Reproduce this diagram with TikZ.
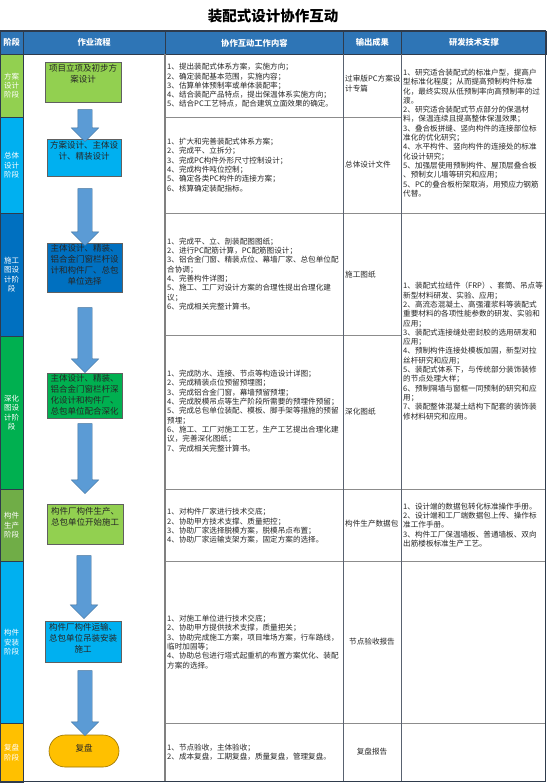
\documentclass[tikz,border=0pt]{standalone}
\usepackage{fontspec}
\setmainfont{Noto Sans CJK SC}
\usepackage{tikz}
\usetikzlibrary{positioning,shapes.arrows}
\usepackage{xcolor}
\definecolor{headblue}{HTML}{2E75B6}
\definecolor{arrowblue}{HTML}{5B9BD5}
\definecolor{arrowedge}{HTML}{41719C}
\definecolor{limegreen}{HTML}{92D050}
\definecolor{skyblue}{HTML}{00B0F0}
\definecolor{deepblue}{HTML}{0070C0}
\definecolor{leafgreen}{HTML}{00B050}
\definecolor{olivegreen}{HTML}{70AD47}
\definecolor{goldyellow}{HTML}{FFC000}
\definecolor{gridgray}{HTML}{8C8C8C}
\definecolor{framedark}{HTML}{2F3B4C}

\begin{document}
\begin{tikzpicture}[
    x=1pt, y=-1pt,
    headcell/.style={anchor=north west, fill=headblue, draw=framedark, line width=0.8pt, text=white, minimum height=23.4, inner sep=0pt, font=\fontsize{8.3}{9}\selectfont\bfseries},
    stagecell/.style={anchor=north west, draw=framedark, line width=0.6pt, text=white, minimum width=22.5, inner sep=0pt, align=center, font=\fontsize{7.5}{9.3}\selectfont},
    flowbox/.style={draw=gray!75!black, line width=0.6pt, inner sep=0pt},
    flowtxt/.style={align=center, inner sep=0pt, font=\fontsize{8.5}{11}\selectfont, text=black!85},
    celltxt/.style={align=left, inner sep=0pt, font=\fontsize{7.6}{9.3}\selectfont, text=black!85},
    outtxt/.style={align=center, inner sep=0pt, font=\fontsize{7.6}{9.3}\selectfont, text=black!85},
    blockarrow/.style={single arrow, shape border rotate=270, fill=arrowblue, draw=arrowedge, line width=0.4pt, inner sep=7pt, single arrow head extend=6.5pt, minimum width=27},
    gridline/.style={draw=gridgray, line width=0.7pt},
    colline/.style={draw=framedark!80, line width=0.7pt}
  ]
  \useasboundingbox (0,0) rectangle (546,783);

  % Title
  \node[font=\fontsize{14.5}{16}\selectfont\bfseries] (title) at (273,16) {装配式设计协作互动};

  % Header row
  \node[headcell, minimum width=22.5] (h1) at (0,30.7) {阶段};
  \node[headcell, minimum width=142.5] (h2) at (22.5,30.7) {作业流程};
  \node[headcell, minimum width=178] (h3) at (165,30.7) {协作互动工作内容};
  \node[headcell, minimum width=58] (h4) at (343,30.7) {输出成果};
  \node[headcell, minimum width=145] (h5) at (401,30.7) {研发技术支撑};

  % Stage column
  \node[stagecell, fill=limegreen, minimum height=63] (s1) at (0,54) {方案\\设计\\阶段};
  \node[stagecell, fill=skyblue, minimum height=96] (s2) at (0,117) {总体\\设计\\阶段};
  \node[stagecell, fill=deepblue, minimum height=122.5] (s3) at (0,213) {施工\\图设\\计阶\\段};
  \node[stagecell, fill=leafgreen, minimum height=153.5] (s4) at (0,335.5) {深化\\图设\\计阶\\段};
  \node[stagecell, fill=olivegreen, minimum height=72] (s5) at (0,489) {构件\\生产\\阶段};
  \node[stagecell, fill=skyblue, minimum height=162] (s6) at (0,561) {构件\\安装\\阶段};
  \node[stagecell, fill=goldyellow, minimum height=58.5] (s7) at (0,723) {复盘\\阶段};

  % Grid
  \draw[gridline] (165,117) -- (401,117);
  \draw[gridline] (165,213) -- (546,213);
  \draw[gridline] (165,335.5) -- (401,335.5);
  \draw[gridline] (165,489) -- (546,489);
  \draw[gridline] (165,561) -- (546,561);
  \draw[gridline] (165,723) -- (546,723);
  \draw[draw=gray, line width=1.4pt] (165,54) -- (165,781.5);
  \draw[colline] (343,54) -- (343,781.5);
  \draw[colline] (401,54) -- (401,781.5);
  \draw[draw=framedark, line width=1pt] (0.5,30.7) rectangle (545.5,781.5);

  % Flow boxes
  \node[flowbox, fill=limegreen, minimum width=76, minimum height=40] (f1) at (83,82) {};
  \node[flowbox, fill=skyblue, minimum width=74, minimum height=37] (f2) at (84,157.5) {};
  \node[flowbox, fill=deepblue, minimum width=75, minimum height=49] (f3) at (84.5,267.5) {};
  \node[flowbox, fill=leafgreen, minimum width=75, minimum height=45] (f4) at (84.5,395.5) {};
  \node[flowbox, fill=limegreen, minimum width=76, minimum height=40] (f5) at (85,524) {};
  \node[flowbox, fill=skyblue, minimum width=76, minimum height=41] (f6) at (83,641.5) {};
  \node[flowbox, fill=goldyellow, draw=goldyellow!60!black, rounded corners=16, minimum width=70, minimum height=32] (f7) at (84,751) {};

  % Flow texts
  \node[flowtxt, below=2.5pt of f1.north] (t1) {项目立项及初步方\\案设计};
  \node[flowtxt, below=2.5pt of f2.north] (t2) {方案设计、主体设\\计、精装设计};
  \node[flowtxt, below=1.5pt of f3.north] (t3) {主体设计、精装、\\铝合金门窗栏杆设\\计和构件厂、总包\\单位选择};
  \node[flowtxt, below=1pt of f4.north] (t4) {主体设计、精装、\\铝合金门窗栏杆深\\化设计和构件厂、\\总包单位配合深化};
  \node[flowtxt, below=3pt of f5.north] (t5) {构件厂构件生产、\\总包单位开始施工};
  \node[flowtxt, below=2pt of f6.north] (t6) {构件厂构件运输、\\总包单位吊装安装\\施工};
  \node[flowtxt, yshift=3pt] (t7) at (f7) {复盘};

  % Arrows
  \node[blockarrow, minimum height=32] (ar1) at (85,122) {};
  \node[blockarrow, minimum height=57] (ar2) at (85,213.5) {};
  \node[blockarrow, minimum height=65] (ar3) at (85,336.5) {};
  \node[blockarrow, minimum height=70] (ar4) at (85,455) {};
  \node[blockarrow, minimum height=63] (ar5) at (84,583.5) {};
  \node[blockarrow, minimum height=65] (ar6) at (85,699.5) {};

  % Work content
  \node[celltxt, anchor=west] (c1) at (167,85.5) {1、提出装配式体系方案，实施方向；\\2、确定装配基本范围，实施内容；\\3、估算单体预制率或单体装配率；\\4、结合装配产品特点，提出保温体系实施方向；\\5、结合PC工艺特点，配合建筑立面效果的确定。};
  \node[celltxt, anchor=west] (c2) at (167,165) {1、扩大和完善装配式体系方案；\\2、完成平、立拆分；\\3、完成PC构件外形尺寸控制设计；\\4、完成构件吨位控制；\\5、确定各类PC构件的连接方案；\\6、核算确定装配指标。};
  \node[celltxt, anchor=west] (c3) at (167,274) {1、完成平、立、剖装配图图纸；\\2、进行PC配筋计算，PC配筋图设计；\\3、铝合金门窗、精装点位、幕墙厂家、总包单位配\\合协调；\\4、完善构件详图；\\5、施工、工厂对设计方案的合理性提出合理化建\\议；\\6、完成相关完整计算书。};
  \node[celltxt, anchor=west] (c4) at (167,411) {1、完成防水、连接、节点等构造设计详图；\\2、完成精装点位预留预埋图；\\3、完成铝合金门窗，幕墙预留预埋；\\4、完成脱模吊点等生产阶段所需要的预埋件预留；\\5、完成总包单位装配、模板、脚手架等措施的预留\\预埋；\\6、施工、工厂对施工工艺，生产工艺提出合理化建\\议，完善深化图纸；\\7、完成相关完整计算书。};
  \node[celltxt, anchor=west] (c5) at (167,526) {1、对构件厂家进行技术交底；\\2、协助甲方技术支撑、质量把控；\\3、协助厂家选择脱模方案，脱模吊点布置；\\4、协助厂家运输支架方案，固定方案的选择。};
  \node[celltxt, anchor=west] (c6) at (167,642) {1、对施工单位进行技术交底；\\2、协助甲方提供技术支撑，质量把关；\\3、协助完成施工方案，项目堆场方案，行车路线，\\临时加固等；\\4、协助总包进行塔式起重机的布置方案优化、装配\\方案的选择。};
  \node[celltxt, anchor=west] (c7) at (167,752) {1、节点验收，主体验收；\\2、成本复盘，工期复盘，质量复盘，管理复盘。};

  % Outputs
  \node[celltxt, anchor=west] (o1) at (345,83.5) {过审版PC方案设\\计专篇};
  \node[celltxt, anchor=west] (o2) at (345,165) {总体设计文件};
  \node[celltxt, anchor=west] (o3) at (345,274.5) {施工图纸};
  \node[celltxt, anchor=west] (o4) at (345,412) {深化图纸};
  \node[celltxt, anchor=west] (o5) at (345,524) {构件生产数据包};
  \node[outtxt] (o6) at (372,642) {节点验收报告};
  \node[outtxt] (o7) at (372,752) {复盘报告};

  % Research support
  \node[celltxt, anchor=west] (r1) at (403,133) {1、研究适合装配式的标准户型，提高户\\型标准化程度；从而提高预制构件标准\\化，最终实现从低预制率向高预制率的过\\渡。\\2、研究适合装配式节点部分的保温材\\料，保温连续且提高整体保温效果；\\3、叠合板拼缝、竖向构件的连接部位标\\准化的优化研究；\\4、水平构件、竖向构件的连接处的标准\\化设计研究；\\5、加强层使用预制构件、屋顶层叠合板\\、预制女儿墙等研究和应用；\\5、PC的叠合板桁架取消，用预应力钢筋\\代替。};
  \node[celltxt, anchor=west] (r2) at (403,351) {1、装配式拉结件（FRP）、套筒、吊点等\\新型材料研发、实验、应用；\\2、高流态混凝土、高强灌浆料等装配式\\重要材料的各项性能参数的研发、实验和\\应用；\\3、装配式连接缝处密封胶的选用研发和\\应用；\\4、预制构件连接处模板加固，新型对拉\\丝杆研究和应用；\\5、装配式体系下，与传统部分装饰装修\\的节点处理大样；\\6、预制隔墙与窗框一同预制的研究和应\\用；\\7、装配整体混凝土结构下配套的装饰装\\修材料研究和应用。};
  \node[celltxt, anchor=west] (r3) at (403,525) {1、设计端的数据包转化标准操作手册。\\2、设计端和工厂端数据包上传、操作标\\准工作手册。\\3、构件工厂保温墙板、普通墙板、双向\\出筋楼板标准生产工艺。};
\end{tikzpicture}
\end{document}
